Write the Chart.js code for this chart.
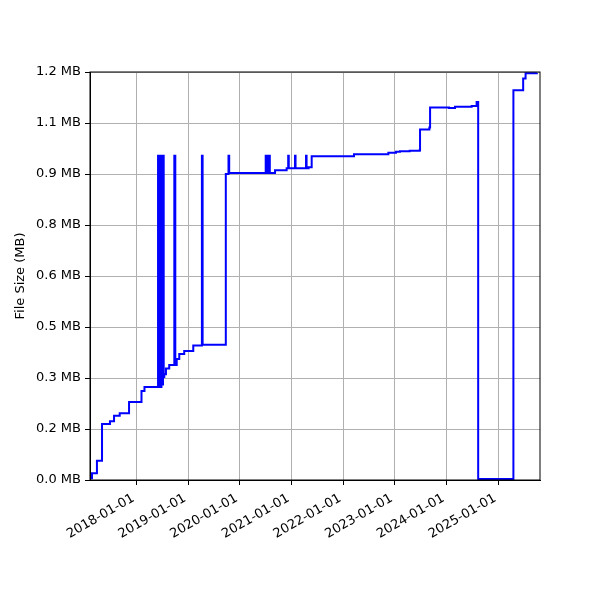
<!DOCTYPE html>
<html>
<head>
<meta charset="utf-8">
<script src="https://cdn.jsdelivr.net/npm/chart.js@4/dist/chart.umd.min.js"></script>
<style>
    body { margin: 0; background: #fff; }
    #chart { display: block; }
</style>
</head>
<body>
<canvas id="chart" width="600" height="600"></canvas>
<script>
// Commit dates and file size (bytes) at each commit
const dates = [
    '2017-02-10', '2017-02-19', '2017-03-26', '2017-05-01', '2017-06-26', '2017-07-25',
    '2017-09-03', '2017-11-08', '2018-02-04', '2018-02-25',
    '2018-06-01', '2018-06-05', '2018-06-12', '2018-06-18', '2018-06-25', '2018-07-01',
    '2018-07-06', '2018-07-11', '2018-07-15', '2018-07-27', '2018-08-19',
    '2018-09-24', '2018-10-01', '2018-10-11', '2018-10-29', '2018-12-03',
    '2019-02-05', '2019-04-07', '2019-04-12', '2019-09-23', '2019-10-12', '2019-10-17',
    '2020-07-01', '2020-07-05', '2020-07-15', '2020-07-19', '2020-07-26', '2020-07-30',
    '2020-09-05', '2020-11-26', '2020-12-07', '2020-12-11', '2021-01-24', '2021-01-28',
    '2021-04-12', '2021-04-16', '2021-04-30', '2021-05-22',
    '2022-03-17', '2022-11-15', '2023-01-08', '2023-02-05', '2023-04-15', '2023-06-22',
    '2023-06-27', '2023-09-01', '2023-09-06', '2024-01-18', '2024-02-29', '2024-06-26',
    '2024-07-31', '2024-08-11', '2025-04-17', '2025-06-25', '2025-07-12', '2025-09-30'
];
const sizes = [
    5300, 21000, 60500, 175700, 184100, 201700,
    209200, 244700, 279200, 291700,
    1017000, 291700, 1017000, 291700, 1017000, 300000,
    1017000, 323000, 332000, 350000, 361000,
    1017000, 361000, 380000, 395000, 405000,
    422000, 1017000, 424000, 960000, 1017000, 963000,
    1017000, 963000, 1017000, 963000, 1017000, 963000,
    972000, 978000, 1017000, 978000, 1017000, 978000,
    1017000, 978000, 981000, 1016000,
    1022000, 1027000, 1030000, 1031500, 1033000, 1034000,
    1100000, 1106000, 1169000, 1167000, 1171000, 1173500,
    1186000, 3000, 1223000, 1260000, 1276000, 1277000
];

const xStart = '2017-02-05';
const xEnd = '2025-10-22';
const xTickLabels = ['2018-01-01', '2019-01-01', '2020-01-01', '2021-01-01',
    '2022-01-01', '2023-01-01', '2024-01-01', '2025-01-01'];

const yTickBytes = [0, 160000, 320000, 480000, 640000, 800000, 960000, 1120000, 1280000];
const yTickLabels = ['0.0 MB', '0.2 MB', '0.3 MB', '0.5 MB', '0.6 MB', '0.8 MB', '0.9 MB', '1.1 MB', '1.2 MB'];

const FONT = "'DejaVu Sans', sans-serif";
const FONT_SIZE = 13;

// Full box round the plot, like the matplotlib spines
const frameBox = {
    id: 'frameBox',
    afterDraw(chart) {
        const { ctx, chartArea: a } = chart;
        ctx.save();
        ctx.strokeStyle = '#000';
        ctx.lineWidth = 1;
        ctx.strokeRect(a.left, a.top, a.right - a.left, a.bottom - a.top);
        ctx.restore();
    }
};

// Date labels rotated 30 degrees, right end at the tick (autofmt_xdate look)
const dateLabels = {
    id: 'dateLabels',
    afterDraw(chart) {
        const { ctx, chartArea: a } = chart;
        const scale = chart.scales.x;
        const angle = 30 * Math.PI / 180;
        const h = FONT_SIZE * 1.16;
        ctx.save();
        ctx.fillStyle = '#000';
        ctx.font = `${FONT_SIZE}px ${FONT}`;
        ctx.textAlign = 'right';
        ctx.textBaseline = 'bottom';
        xTickLabels.forEach(t => {
            const x = scale.getPixelForValue(Date.parse(t));
            ctx.save();
            ctx.translate(x, a.bottom + 10 + h * Math.cos(angle));
            ctx.rotate(-angle);
            ctx.fillText(t, 0, 0);
            ctx.restore();
        });
        ctx.restore();
    }
};

const points = dates.map((d, i) => ({ x: Date.parse(d), y: sizes[i] }));

new Chart(document.getElementById('chart').getContext('2d'), {
    type: 'line',
    data: {
        datasets: [{
            label: 'File Size',
            data: points,
            borderColor: '#0000ff',
            borderWidth: 2,
            pointRadius: 0,
            stepped: true,
            fill: false
        }]
    },
    options: {
        responsive: false,
        animation: false,
        layout: { padding: { left: 0, right: 60, top: 72, bottom: 0 } },
        plugins: {
            legend: { display: false },
            tooltip: { enabled: false }
        },
        scales: {
            x: {
                type: 'linear',
                min: Date.parse(xStart),
                max: Date.parse(xEnd),
                afterBuildTicks: (scale) => {
                    scale.ticks = xTickLabels.map(t => ({ value: Date.parse(t) }));
                },
                afterFit: (scale) => { scale.height = 120; },
                ticks: { display: false },
                grid: { color: '#b0b0b0', lineWidth: 1, tickColor: '#000', tickLength: 5, drawTicks: true },
                border: { color: '#000', width: 1 }
            },
            y: {
                min: 0,
                max: 1280000,
                afterBuildTicks: (scale) => {
                    scale.ticks = yTickBytes.map(v => ({ value: v }));
                },
                afterFit: (scale) => { scale.width = 90; },
                ticks: {
                    callback: (v, i) => yTickLabels[i],
                    padding: 4,
                    color: '#000',
                    font: { family: FONT, size: FONT_SIZE }
                },
                grid: { color: '#b0b0b0', lineWidth: 1, tickColor: '#000', tickLength: 5 },
                border: { color: '#000', width: 1 },
                title: {
                    display: true,
                    text: 'File Size (MB)',
                    color: '#000',
                    font: { family: FONT, size: FONT_SIZE },
                    padding: { top: 13, bottom: 0 }
                }
            }
        }
    },
    plugins: [frameBox, dateLabels]
});
</script>
</body>
</html>
